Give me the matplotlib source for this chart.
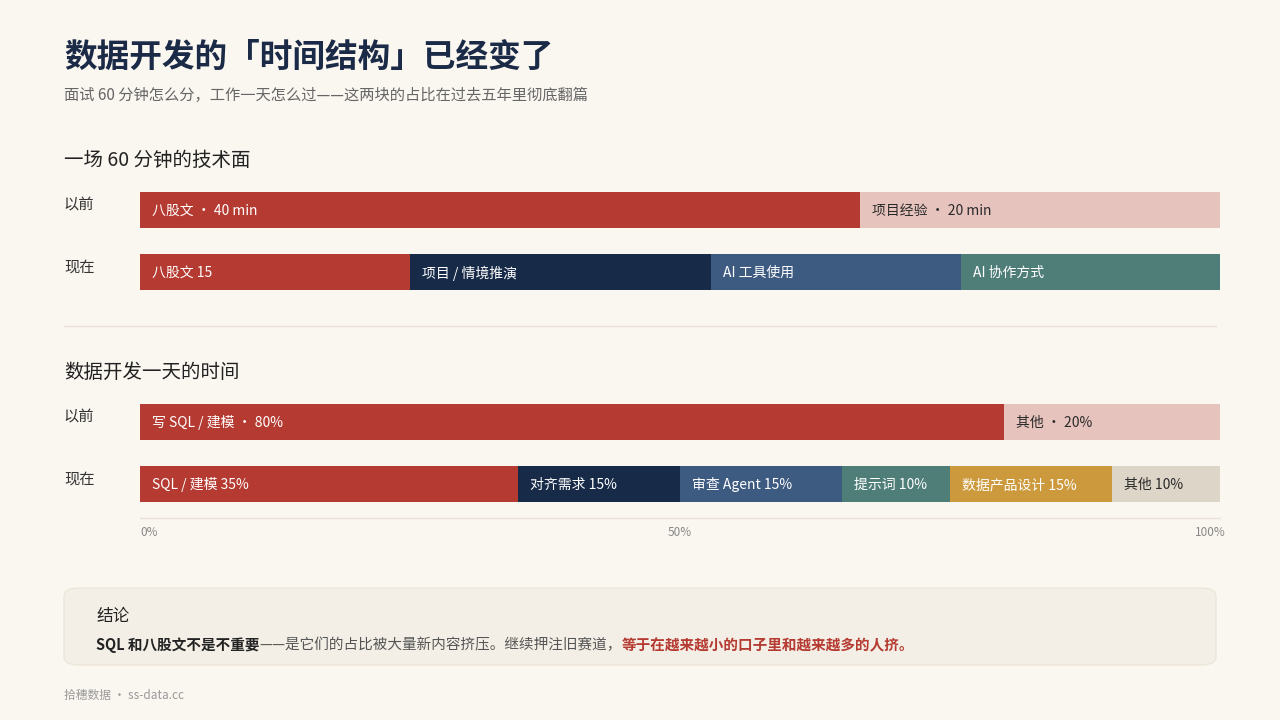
import matplotlib.pyplot as plt
from matplotlib.patches import FancyBboxPatch

plt.rcParams['font.family'] = ['Noto Sans CJK SC', 'DejaVu Sans']

# 面试 60 分钟
interview_rows = ['以前', '现在']
interview_before = [40, 20]
interview_before_labels = ['八股文 · 40 min', '项目经验 · 20 min']
interview_now = [15, 16.7, 13.9, 14.4]
interview_now_labels = ['八股文 15', '项目 / 情境推演', 'AI 工具使用', 'AI 协作方式']

# 一天的时间 (%)
day_before = [80, 20]
day_before_labels = ['写 SQL / 建模 · 80%', '其他 · 20%']
day_now = [35, 15, 15, 10, 15, 10]
day_now_labels = ['SQL / 建模 35%', '对齐需求 15%', '审查 Agent 15%', '提示词 10%', '数据产品设计 15%', '其他 10%']

RED, PINK, NAVY, BLUE, TEAL, GOLD, BEIGE = '#B53A31', '#E6C3BD', '#172B48', '#3D5A80', '#4F7D78', '#CC9A3C', '#DDD5C8'
BG = '#FAF6F0'
DARK = '#1B2A47'
W, H = 1280, 720

fig = plt.figure(figsize=(12.8, 7.2), dpi=100, facecolor=BG)


def fy(y):
    return 1 - y / H


def txt(x, y, s, **kw):
    fig.text(x / W, fy(y), s, va='center', **kw)


def bar_axes(top, xmax):
    ax = fig.add_axes([140 / W, fy(top + 98), 1080 / W, 98 / H])
    ax.set_xlim(0, xmax)
    ax.set_ylim(98, 0)
    ax.axis('off')
    return ax


def draw_row(ax, y0, vals, labels, colors, light):
    left = 0
    for v, lab, c, lt in zip(vals, labels, colors, light):
        ax.barh(y0 + 18, v, left=left, height=36, color=c, linewidth=0)
        ax.text(left + ax.get_xlim()[1] * 12 / 1080, y0 + 19, lab, va='center', fontsize=10,
                fontweight='medium', color='#2A2A2A' if lt else 'white')
        left += v


txt(64, 57, '数据开发的「时间结构」已经变了', fontsize=23.5, fontweight='bold', color=DARK)
txt(64, 95, '面试 60 分钟怎么分，工作一天怎么过——这两块的占比在过去五年里彻底翻篇', fontsize=11, color='#666666')

txt(64, 160, '一场 60 分钟的技术面', fontsize=14, fontweight='medium', color='#222222')
txt(64, 205, interview_rows[0], fontsize=11, fontweight='medium', color='#333333')
txt(64, 267, interview_rows[1], fontsize=11, fontweight='medium', color='#333333')
ax1 = bar_axes(192, sum(interview_before))
draw_row(ax1, 0, interview_before, interview_before_labels, [RED, PINK], [False, True])
draw_row(ax1, 62, interview_now, interview_now_labels, [RED, NAVY, BLUE, TEAL], [False] * 4)

fig.add_artist(plt.Line2D([64 / W, 1216 / W], [fy(326)] * 2, color='#E8E2D8', lw=1))

txt(64, 372, '数据开发一天的时间', fontsize=14, fontweight='medium', color='#222222')
txt(64, 417, interview_rows[0], fontsize=11, fontweight='medium', color='#333333')
txt(64, 479, interview_rows[1], fontsize=11, fontweight='medium', color='#333333')
ax2 = bar_axes(404, 100)
draw_row(ax2, 0, day_before, day_before_labels, [RED, PINK], [False, True])
draw_row(ax2, 62, day_now, day_now_labels, [RED, NAVY, BLUE, TEAL, GOLD, BEIGE],
         [False, False, False, False, False, True])

fig.add_artist(plt.Line2D([140 / W, 1220 / W], [fy(518)] * 2, color='#E8E2D8', lw=1))
for p, ha in [(0, 'left'), (50, 'center'), (100, 'right')]:
    txt(140 + p * 10.8 + (6 if ha == 'right' else 0), 532, f'{p}%', fontsize=8.5, color='#888888', ha=ha)

box = FancyBboxPatch((64 / W, fy(665)), 1152 / W, 77 / H, boxstyle='round,pad=0,rounding_size=0.012',
                     transform=fig.transFigure, facecolor='#F3EFE6', edgecolor='#ECE6DA', lw=1)
fig.add_artist(box)
txt(96, 616, '结论', fontsize=12, fontweight='medium', color='#222222')
t1 = fig.text(96 / W, fy(645), 'SQL 和八股文不是不重要', va='center', fontsize=10.5, fontweight='bold', color='#222222')
fig.canvas.draw()
r = fig.canvas.get_renderer()
x = t1.get_window_extent(r).x1
t2 = fig.text(x / W, fy(645), '——是它们的占比被大量新内容挤压。继续押注旧赛道，', va='center', fontsize=10.5, color='#555555')
x = t2.get_window_extent(r).x1
fig.text(x / W, fy(645), '等于在越来越小的口子里和越来越多的人挤。', va='center', fontsize=10.5, fontweight='bold', color=RED)

txt(64, 695, '拾穗数据 · ss-data.cc', fontsize=8.5, color='#999999')

fig.savefig('out.png', dpi=100, facecolor=BG)
